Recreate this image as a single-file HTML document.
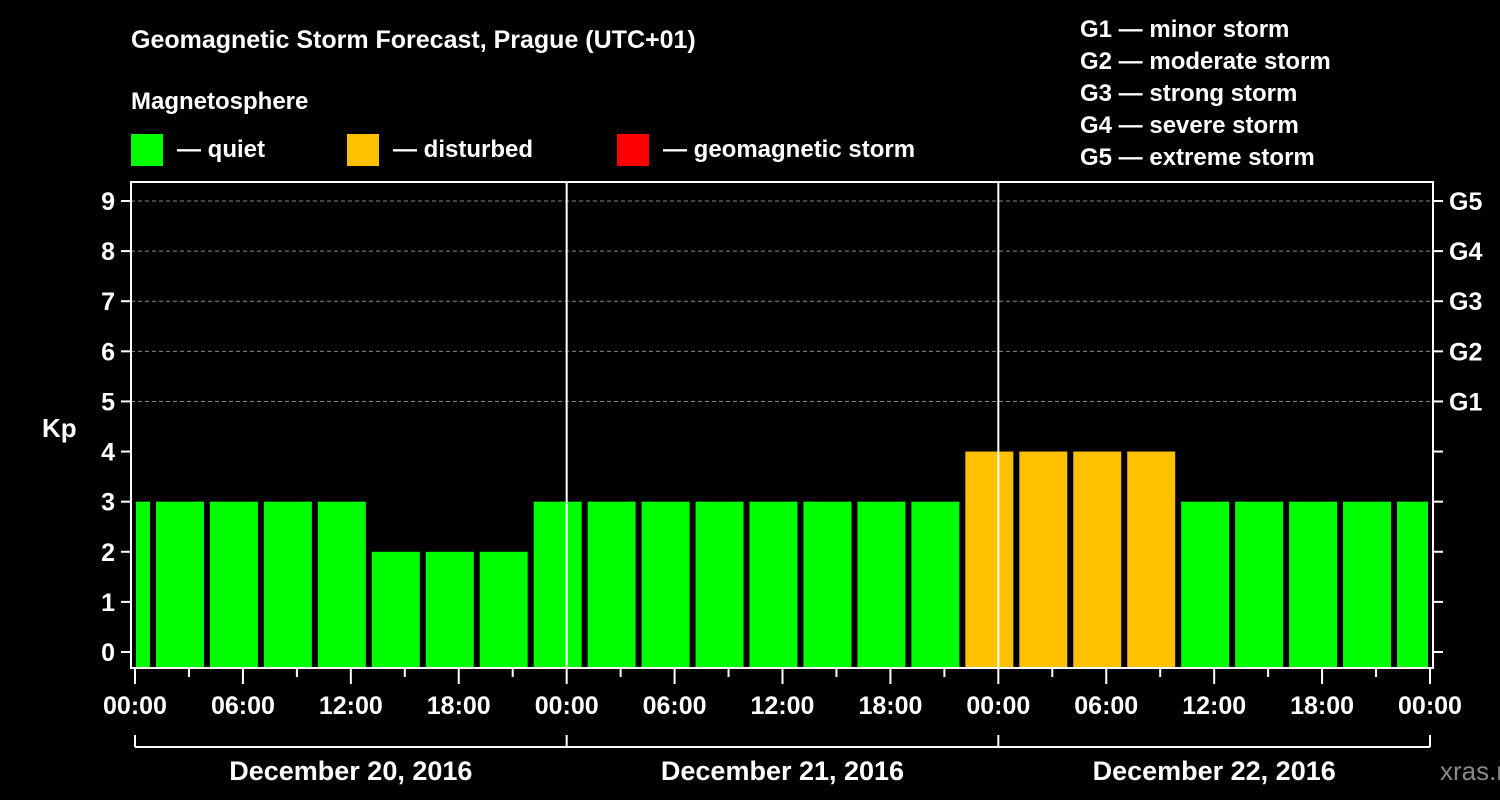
<!DOCTYPE html>
<html><head><meta charset="utf-8"><style>
body{margin:0;background:#000;}
svg{display:block;font-family:"Liberation Sans",sans-serif;font-weight:bold;}
</style></head><body>
<svg id="c" width="1500" height="800" viewBox="0 0 1500 800">
<rect width="1500" height="800" fill="#000"/>
<text x="131" y="48" fill="#fff" font-size="25">Geomagnetic Storm Forecast, Prague (UTC+01)</text>
<text x="131" y="109" fill="#fff" font-size="24">Magnetosphere</text>
<g><rect x="131" y="134" width="32" height="32" fill="#00ff00"/><text x="177" y="157" fill="#fff" font-size="24">— quiet</text></g>
<g><rect x="347" y="134" width="32" height="32" fill="#ffc000"/><text x="393" y="157" fill="#fff" font-size="24">— disturbed</text></g>
<g><rect x="617" y="134" width="32" height="32" fill="#ff0000"/><text x="663" y="157" fill="#fff" font-size="24">— geomagnetic storm</text></g>
<g fill="#fff" font-size="24">
<text x="1080" y="37">G1 — minor storm</text>
<text x="1080" y="69">G2 — moderate storm</text>
<text x="1080" y="101">G3 — strong storm</text>
<text x="1080" y="133">G4 — severe storm</text>
<text x="1080" y="165">G5 — extreme storm</text>
</g>
<text x="42" y="437" fill="#fff" font-size="26">Kp</text>
<text x="1440" y="780" fill="#888" font-size="26" font-weight="normal">xras.ru</text>
<g id="plot"></g>
</svg>
<script>
const barStartHours=[-2,1,4,7,10,13,16,19,22,25,28,31,34,37,40,43,46,49,52,55,58,61,64,67,70];
const kpValues=[3,3,3,3,3,2,2,2,3,3,3,3,3,3,3,3,4,4,4,4,3,3,3,3,3];
const yTicks=[0,1,2,3,4,5,6,7,8,9];
const gLabels=["G1","G2","G3","G4","G5"];
const xTickLabels=["00:00","06:00","12:00","18:00","00:00","06:00","12:00","18:00","00:00","06:00","12:00","18:00","00:00"];
const dayLabels=["December 20, 2016","December 21, 2016","December 22, 2016"];
const NS="http://www.w3.org/2000/svg";
const g=document.getElementById('plot');
const X=h=>135+h*(1430-135)/72;
const Y=v=>652-v*(652-201)/9;
function mk(t,a,p){const e=document.createElementNS(NS,t);for(const k in a)e.setAttribute(k,a[k]);(p||g).appendChild(e);return e;}
// grid
for(let v=5;v<=9;v++){const l=mk('line',{x1:131,x2:1433,y1:Y(v),y2:Y(v),stroke:'#888','stroke-dasharray':'4,3','stroke-width':1});

}
// bars
barStartHours.forEach((h,i)=>{const v=kpValues[i];
let x1=Math.max(X(h)+3,136),x2=Math.min(X(h+3)-3,1428);
const col=v>=5?'#ff0000':(v>=4?'#ffc000':'#00ff00');
const r=mk('rect',{x:x1,y:Y(v),width:x2-x1,height:668-Y(v),fill:col});

});
// frame
const f=mk('rect',{x:131,y:182,width:1302,height:486,fill:'none',stroke:'#fff','stroke-width':2});


[24,48].forEach(h=>{const l=mk('line',{x1:X(h),x2:X(h),y1:182,y2:668,stroke:'#fff','stroke-width':2});

});
// y ticks
yTicks.forEach(v=>{mk('line',{x1:121,x2:131,y1:Y(v),y2:Y(v),stroke:'#fff','stroke-width':2});
mk('line',{x1:1433,x2:1443,y1:Y(v),y2:Y(v),stroke:'#fff','stroke-width':2});
const t=mk('text',{x:115,y:Y(v)+9,fill:'#fff','font-size':25,'text-anchor':'end'});t.textContent=v;

});
gLabels.forEach((s,i)=>{const t=mk('text',{x:1449,y:Y(5+i)+9,fill:'#fff','font-size':25});t.textContent=s;

});
// x ticks
for(let h=0;h<=72;h+=3){mk('line',{x1:X(h),x2:X(h),y1:668,y2:h%6==0?684:677,stroke:'#fff','stroke-width':2});}
xTickLabels.forEach((s,i)=>{const t=mk('text',{x:X(i*6),y:714,fill:'#fff','font-size':25,'text-anchor':'middle'});t.textContent=s;

});
// bracket
mk('line',{x1:X(0),x2:X(72),y1:747,y2:747,stroke:'#fff','stroke-width':2});
for(let d=0;d<=3;d++)mk('line',{x1:X(d*24),x2:X(d*24),y1:735,y2:747,stroke:'#fff','stroke-width':2});
dayLabels.forEach((s,i)=>{const t=mk('text',{x:X(i*24+12),y:780,fill:'#fff','font-size':27,'text-anchor':'middle'});t.textContent=s;

});
</script>
</body></html>
